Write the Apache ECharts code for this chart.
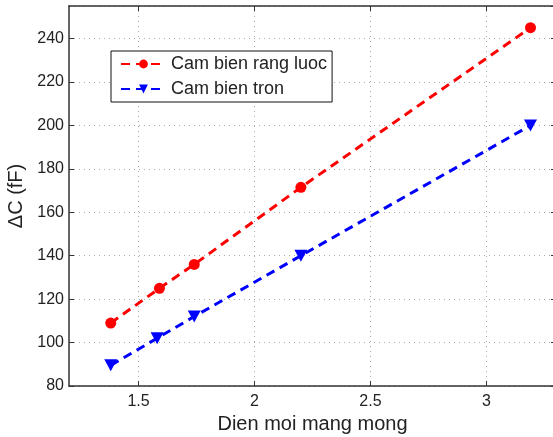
<!DOCTYPE html>
<html>
<head>
<meta charset="utf-8">
<script src="https://cdn.jsdelivr.net/npm/echarts@6/dist/echarts.min.js"></script>
<style>
  html, body { margin: 0; padding: 0; background: #fff; }
  #chart { width: 553px; height: 437px; }
</style>
</head>
<body>
<div id="chart"></div>
<script>
// du lieu doc tu hinh
const seriesNames = ['Cam bien rang luoc', 'Cam bien tron'];
const xRangLuoc = [1.38, 1.59, 1.74, 2.2, 3.19];
const yRangLuoc = [109, 125, 136, 171.5, 245];
const xTron = [1.38, 1.58, 1.74, 2.2, 3.19];
const yTron = [89.5, 102, 112, 140, 200];
const xTicks = [1.5, 2, 2.5, 3];

const font = '"Liberation Sans", Arial, sans-serif';
const toPairs = (xs, ys) => xs.map((x, i) => [x, ys[i]]);

document.addEventListener('DOMContentLoaded', () => {
  const chart = echarts.init(document.getElementById('chart'));

  const xBase = {
    type: 'value', min: 1.2, max: 3.3,
    axisLine: { show: true, onZero: false, lineStyle: { color: '#333', width: 1.5 } },
    axisTick: { show: true, inside: true, length: 5, customValues: xTicks, lineStyle: { color: '#333' } },
    splitLine: { show: false }
  };
  const yBase = {
    type: 'value', min: 80, max: 255, interval: 20,
    axisLine: { show: true, onZero: false, lineStyle: { color: '#333', width: 1.5 } },
    axisTick: { show: true, inside: true, length: 5, lineStyle: { color: '#333' } },
    splitLine: { show: false }
  };

  const option = {
    animation: false,
    backgroundColor: '#fff',
    grid: { left: 69, top: 6, right: -3, bottom: 51, containLabel: false, outerBoundsMode: 'none' },
    legend: {
      orient: 'vertical',
      left: 111, top: 51,
      padding: [4, 5, 4, 9],
      itemWidth: 45, itemHeight: 11, itemGap: 7,
      borderColor: '#111', borderWidth: 1, borderRadius: 0,
      backgroundColor: '#fff',
      textStyle: { fontFamily: font, fontSize: 18, color: '#222' },
      data: seriesNames
    },
    xAxis: [
      Object.assign({}, xBase, {
        position: 'bottom',
        name: 'Dien moi mang mong', nameLocation: 'middle', nameGap: 25,
        nameTextStyle: { fontFamily: font, fontSize: 20, color: '#222' },
        axisLabel: { show: true, customValues: xTicks, margin: 8, fontFamily: font, fontSize: 16, color: '#222' },
        splitLine: { show: true, lineStyle: { color: '#aaa', type: [1, 4], width: 1 } }
      }),
      Object.assign({}, xBase, { position: 'top', axisLabel: { show: false } })
    ],
    yAxis: [
      Object.assign({}, yBase, {
        position: 'left',
        name: 'ΔC (fF)', nameLocation: 'middle', nameGap: 39, nameRotate: 90,
        nameTextStyle: { fontFamily: font, fontSize: 20, color: '#222' },
        axisLabel: { show: true, margin: 5, showMaxLabel: false, fontFamily: font, fontSize: 16, color: '#222' },
        splitLine: { show: true, lineStyle: { color: '#aaa', type: [1, 4], width: 1 } }
      }),
      Object.assign({}, yBase, { position: 'right', axisLabel: { show: false } })
    ],
    series: [
      {
        name: seriesNames[0], type: 'line',
        data: toPairs(xRangLuoc, yRangLuoc),
        symbol: 'circle', symbolSize: 11,
        itemStyle: { color: '#ff0000' },
        lineStyle: { color: '#ff0000', width: 3, type: [9, 6] }
      },
      {
        name: seriesNames[1], type: 'line',
        data: toPairs(xTron, yTron),
        symbol: 'path://M0,0 L10,0 L5,9 Z', symbolSize: [13, 12],
        itemStyle: { color: '#0000ff' },
        lineStyle: { color: '#0000ff', width: 3, type: [9, 6] }
      }
    ]
  };

  chart.setOption(option);
});
</script>
</body>
</html>
